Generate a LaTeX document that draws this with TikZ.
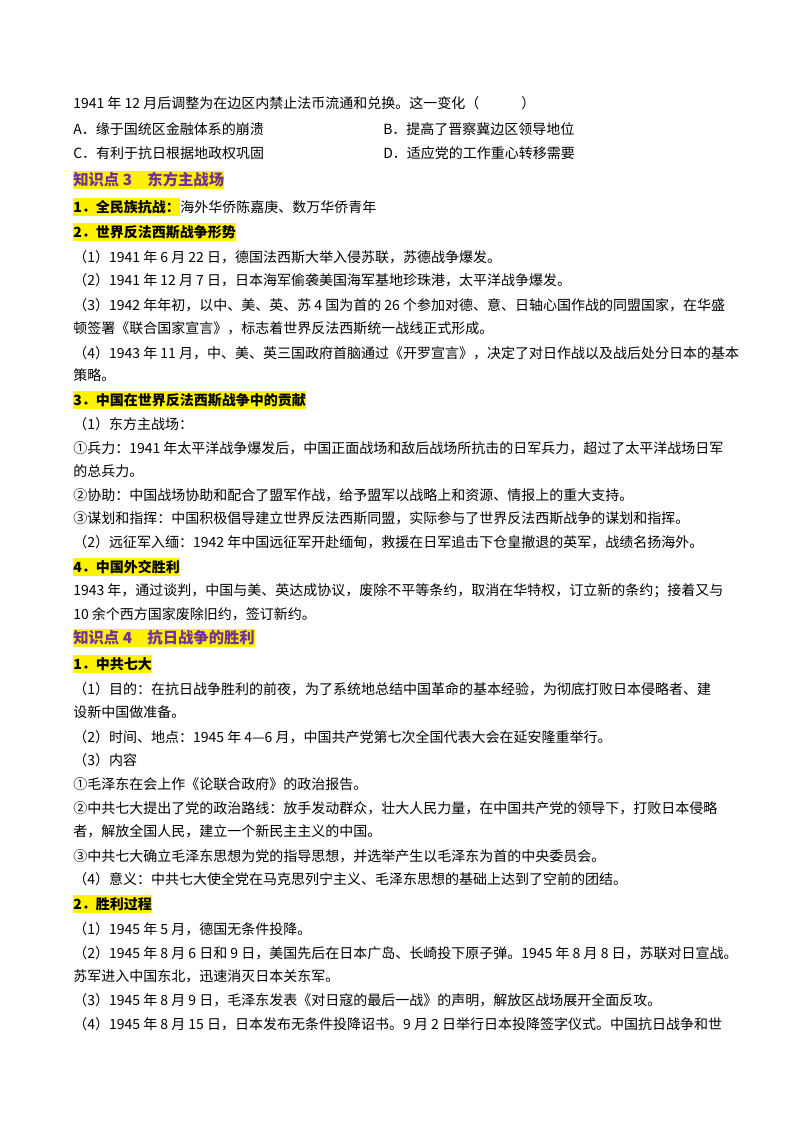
\documentclass[tikz,border=0pt]{standalone}
\usepackage{fontspec}
\setmainfont{Noto Sans CJK SC}
\definecolor{kp}{HTML}{7030A0}
\begin{document}
\begin{tikzpicture}[x=0.75pt,y=-0.75pt,
 t/.style={anchor=west,inner sep=0pt,font=\fontsize{10.5}{12}\selectfont},
 hl/.style={t,fill=yellow,inner ysep=1.5pt,font=\fontsize{10.5}{12}\selectfont\bfseries},
 kp/.style={hl,text=kp,font=\fontsize{11.5}{13}\selectfont\bfseries}]
\useasboundingbox[fill=white] (0,0) rectangle (800,1132);
\node[t] (l1) at (73,103) {1941 年 12 月后调整为在边区内禁止法币流通和兑换。这一变化（　　　）};
\node[t] (a) at (73,129) {A．缘于国统区金融体系的崩溃};
\node[t] (b) at (383,129) {B．提高了晋察冀边区领导地位};
\node[t] (c) at (73,153) {C．有利于抗日根据地政权巩固};
\node[t] (d) at (383,153) {D．适应党的工作重心转移需要};
\node[kp] (k3) at (73,180) {知识点 3\quad 东方主战场};
\node[hl] (h1) at (73,207) {1．全民族抗战：};
\node[t] (h1b) at (h1.east) {海外华侨陈嘉庚、数万华侨青年};
\node[hl] (h2) at (73,232) {2．世界反法西斯战争形势};
\node[t] at (73,257) {（1）1941 年 6 月 22 日，德国法西斯大举入侵苏联，苏德战争爆发。};
\node[t] at (73,280) {（2）1941 年 12 月 7 日，日本海军偷袭美国海军基地珍珠港，太平洋战争爆发。};
\node[t] at (73,305) {（3）1942 年年初，以中、美、英、苏 4 国为首的 26 个参加对德、意、日轴心国作战的同盟国家，在华盛};
\node[t] at (73,328) {顿签署《联合国家宣言》，标志着世界反法西斯统一战线正式形成。};
\node[t] at (73,353) {（4）1943 年 11 月，中、美、英三国政府首脑通过《开罗宣言》，决定了对日作战以及战后处分日本的基本};
\node[t] at (73,375) {策略。};
\node[hl] (h3) at (73,400) {3．中国在世界反法西斯战争中的贡献};
\node[t] at (73,424) {（1）东方主战场：};
\node[t] at (73,448) {①兵力：1941 年太平洋战争爆发后，中国正面战场和敌后战场所抗击的日军兵力，超过了太平洋战场日军};
\node[t] at (73,471) {的总兵力。};
\node[t] at (73,495) {②协助：中国战场协助和配合了盟军作战，给予盟军以战略上和资源、情报上的重大支持。};
\node[t] at (73,518) {③谋划和指挥：中国积极倡导建立世界反法西斯同盟，实际参与了世界反法西斯战争的谋划和指挥。};
\node[t] at (73,542) {（2）远征军入缅：1942 年中国远征军开赴缅甸，救援在日军追击下仓皇撤退的英军，战绩名扬海外。};
\node[hl] (h4) at (73,567) {4．中国外交胜利};
\node[t] at (73,591) {1943 年，通过谈判，中国与美、英达成协议，废除不平等条约，取消在华特权，订立新的条约；接着又与};
\node[t] at (73,614) {10 余个西方国家废除旧约，签订新约。};
\node[kp] (k4) at (73,638) {知识点 4\quad 抗日战争的胜利};
\node[hl] (g1) at (73,664) {1．中共七大};
\node[t] at (73,689) {（1）目的：在抗日战争胜利的前夜，为了系统地总结中国革命的基本经验，为彻底打败日本侵略者、建};
\node[t] at (73,712) {设新中国做准备。};
\node[t] at (73,737) {（2）时间、地点：1945 年 4—6 月，中国共产党第七次全国代表大会在延安隆重举行。};
\node[t] at (73,760) {（3）内容};
\node[t] at (73,784) {①毛泽东在会上作《论联合政府》的政治报告。};
\node[t] at (73,808) {②中共七大提出了党的政治路线：放手发动群众，壮大人民力量，在中国共产党的领导下，打败日本侵略};
\node[t] at (73,831) {者，解放全国人民，建立一个新民主主义的中国。};
\node[t] at (73,856) {③中共七大确立毛泽东思想为党的指导思想，并选举产生以毛泽东为首的中央委员会。};
\node[t] at (73,879) {（4）意义：中共七大使全党在马克思列宁主义、毛泽东思想的基础上达到了空前的团结。};
\node[hl] (g2) at (73,904) {2．胜利过程};
\node[t] at (73,929) {（1）1945 年 5 月，德国无条件投降。};
\node[t] at (73,953) {（2）1945 年 8 月 6 日和 9 日，美国先后在日本广岛、长崎投下原子弹。1945 年 8 月 8 日，苏联对日宣战。};
\node[t] at (73,976) {苏军进入中国东北，迅速消灭日本关东军。};
\node[t] at (73,1000) {（3）1945 年 8 月 9 日，毛泽东发表《对日寇的最后一战》的声明，解放区战场展开全面反攻。};
\node[t] at (73,1024) {（4）1945 年 8 月 15 日，日本发布无条件投降诏书。9 月 2 日举行日本投降签字仪式。中国抗日战争和世};
\end{tikzpicture}
\end{document}
